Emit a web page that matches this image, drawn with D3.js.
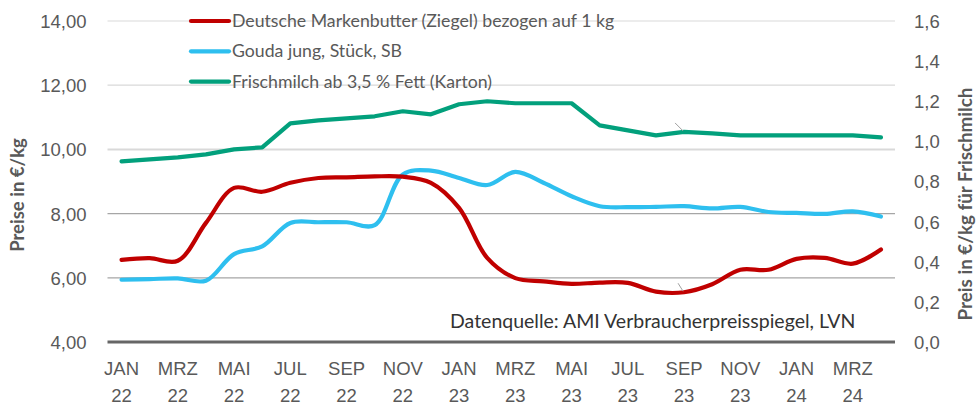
<!DOCTYPE html>
<html>
<head>
<meta charset="utf-8">
<script src="https://cdn.jsdelivr.net/npm/d3@7"></script>
<style>
  html, body { margin: 0; padding: 0; background: #fff; }
  svg { display: block; font-family: Lato, "Open Sans", sans-serif; }
</style>
</head>
<body>
<svg id="chart" width="979" height="406"></svg>
<script>
// Monthly retail prices, Jan 2022 – Apr 2024
const months = [
  "JAN 22","FEB 22","MRZ 22","APR 22","MAI 22","JUN 22","JUL 22","AUG 22","SEP 22","OKT 22","NOV 22","DEZ 22",
  "JAN 23","FEB 23","MRZ 23","APR 23","MAI 23","JUN 23","JUL 23","AUG 23","SEP 23","OKT 23","NOV 23","DEZ 23",
  "JAN 24","FEB 24","MRZ 24","APR 24"
];
// €/kg (left axis)
const butter = [6.56, 6.61, 6.53, 7.71, 8.80, 8.68, 8.96, 9.11, 9.13, 9.16, 9.15, 8.96,
                8.18, 6.62, 5.99, 5.89, 5.81, 5.85, 5.84, 5.57, 5.55, 5.80, 6.25, 6.25,
                6.59, 6.62, 6.44, 6.88];
const gouda = [5.94, 5.96, 5.98, 5.91, 6.74, 6.98, 7.71, 7.73, 7.73, 7.64, 9.22, 9.34,
               9.11, 8.89, 9.30, 8.96, 8.54, 8.23, 8.20, 8.21, 8.23, 8.16, 8.21, 8.05,
               8.02, 7.99, 8.07, 7.91];
// €/kg (right axis)
const milk = [0.90, 0.91, 0.92, 0.935, 0.96, 0.97, 1.09, 1.105, 1.115, 1.125, 1.15, 1.135,
              1.185, 1.20, 1.19, 1.19, 1.19, 1.08, 1.055, 1.03, 1.047, 1.04, 1.03, 1.03,
              1.03, 1.03, 1.03, 1.02];

const seriesNames = [
  "Deutsche Markenbutter (Ziegel) bezogen auf 1 kg",
  "Gouda jung, Stück, SB",
  "Frischmilch ab 3,5 % Fett (Karton)"
];
const leftTicks = [4, 6, 8, 10, 12, 14];
const rightTicks = [0, 0.2, 0.4, 0.6, 0.8, 1.0, 1.2, 1.4, 1.6];
const sourceNote = "Datenquelle: AMI Verbraucherpreisspiegel, LVN";

const colors = ["#C00000", "#2EBFEF", "#02A07C"];
const textGray = "#595959";

const svg = d3.select("#chart");
const plotLeft = 107.5, plotRight = 895, plotTop = 21, plotBottom = 342;

const x = d3.scaleBand().domain(months).range([plotLeft, plotRight]).padding(0);
const xc = m => x(m) + x.bandwidth() / 2;
const yL = d3.scaleLinear().domain([4, 14]).range([plotBottom, plotTop]);
const yR = d3.scaleLinear().domain([0, 1.6]).range([plotBottom, plotTop]);

const fmt2 = d3.format(".2f"), fmt1 = d3.format(".1f");
const de = s => s.replace(".", ",");

// gridlines
const grid = svg.append("g");
leftTicks.filter(t => t > 4).forEach(t => {
  const dark = t <= 8;
  grid.append("line")
    .attr("x1", plotLeft).attr("x2", plotRight)
    .attr("y1", yL(t)).attr("y2", yL(t))
    .attr("stroke", dark ? "#a6a6a6" : "#d9d9d9")
    .attr("stroke-width", t === 10 ? 2 : 1.2);
});

// left axis
const axL = svg.append("g").attr("transform", `translate(${plotLeft},0)`)
  .call(d3.axisLeft(yL).tickValues(leftTicks).tickSize(0).tickPadding(21).tickFormat(d => de(fmt2(d))));
axL.select(".domain").remove();
axL.selectAll("text").attr("fill", textGray).attr("font-size", 18.5).attr("dy", "0.35em");

// right axis
const axR = svg.append("g").attr("transform", `translate(${plotRight},0)`)
  .call(d3.axisRight(yR).tickValues(rightTicks).tickSize(0).tickPadding(19).tickFormat(d => de(fmt1(d))));
axR.select(".domain").remove();
axR.selectAll("text").attr("fill", textGray).attr("font-size", 18.5).attr("dy", "0.35em");

// bottom axis with two-line month labels
const axB = svg.append("g").attr("transform", `translate(0,${plotBottom})`)
  .call(d3.axisBottom(x).tickValues(months.filter((m, i) => i % 2 === 0)).tickSize(0).tickFormat(""));
axB.select(".domain").remove();
axB.selectAll(".tick").each(function(d) {
  const parts = d.split(" ");
  const t = d3.select(this).append("text")
    .attr("fill", textGray).attr("font-size", 18.5).attr("text-anchor", "middle");
  t.append("tspan").attr("x", 0).attr("y", 33).text(parts[0]);
  t.append("tspan").attr("x", 0).attr("y", 60).text(parts[1]);
});

// baseline
svg.append("line")
  .attr("x1", plotLeft).attr("x2", plotRight)
  .attr("y1", yL(4)).attr("y2", yL(4))
  .attr("stroke", "#666").attr("stroke-width", 3);

// axis titles
svg.append("text")
  .attr("transform", `translate(24,195) rotate(-90)`)
  .attr("text-anchor", "middle").attr("fill", textGray)
  .attr("font-size", 18.5).attr("font-weight", "bold")
  .text("Preise in €/kg");
svg.append("text")
  .attr("transform", `translate(972,204) rotate(-90)`)
  .attr("text-anchor", "middle").attr("fill", textGray)
  .attr("font-size", 18.8).attr("font-weight", "bold")
  .text("Preis in €/kg für Frischmilch");

// lines
const smooth = d3.line().x((d, i) => xc(months[i])).curve(d3.curveCatmullRom.alpha(0.5));
const straight = d3.line().x((d, i) => xc(months[i])).curve(d3.curveLinear);

svg.append("path").datum(milk)
  .attr("d", straight.y(d => yR(d)))
  .attr("fill", "none").attr("stroke", colors[2]).attr("stroke-width", 4.2)
  .attr("stroke-linecap", "round").attr("stroke-linejoin", "round");
svg.append("path").datum(gouda)
  .attr("d", smooth.y(d => yL(d)))
  .attr("fill", "none").attr("stroke", colors[1]).attr("stroke-width", 4.2)
  .attr("stroke-linecap", "round");
svg.append("path").datum(butter)
  .attr("d", smooth.y(d => yL(d)))
  .attr("fill", "none").attr("stroke", colors[0]).attr("stroke-width", 4.2)
  .attr("stroke-linecap", "round");

// label leader lines at SEP 23
const iSep = months.indexOf("SEP 23");
svg.append("line")
  .attr("x1", xc(months[iSep]) - 9).attr("y1", yR(milk[iSep]) - 9)
  .attr("x2", xc(months[iSep]) - 1).attr("y2", yR(milk[iSep]) - 1)
  .attr("stroke", "#a0a0a0").attr("stroke-width", 1);
svg.append("line")
  .attr("x1", xc(months[iSep]) - 6).attr("y1", yL(butter[iSep]) - 9)
  .attr("x2", xc(months[iSep]) - 1).attr("y2", yL(butter[iSep]) - 1)
  .attr("stroke", "#a0a0a0").attr("stroke-width", 1);

// legend
const legend = svg.append("g");
seriesNames.forEach((name, i) => {
  const yy = 21 + i * 30.3;
  legend.append("line")
    .attr("x1", 191).attr("x2", 229).attr("y1", yy).attr("y2", yy)
    .attr("stroke", colors[i]).attr("stroke-width", 4.2).attr("stroke-linecap", "round");
  legend.append("text")
    .attr("x", 232).attr("y", yy).attr("dy", "0.35em")
    .attr("fill", textGray).attr("font-size", 17.7)
    .text(name);
});

// source note
svg.append("text")
  .attr("x", 450).attr("y", 328)
  .attr("fill", "#333").attr("font-size", 19.5)
  .text(sourceNote);
</script>
</body>
</html>
